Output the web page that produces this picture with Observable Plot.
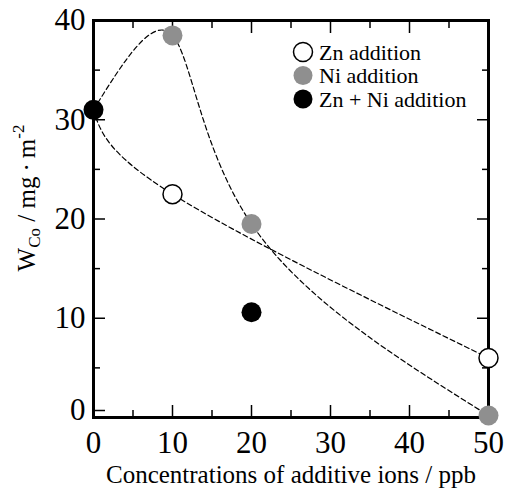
<!DOCTYPE html>
<html><head><meta charset="utf-8">
<script src="https://cdn.jsdelivr.net/npm/d3@7"></script>
<script src="https://cdn.jsdelivr.net/npm/@observablehq/plot@0.6"></script>
<style>body{margin:0;background:#fff} #chart{width:509px;height:488px}</style>
</head><body><div id="chart"></div>
<script>
const znX = [10, 50], znY = [22.5, 6];
const niX = [10, 20, 50], niY = [38.5, 19.5, 0.2];
const bothX = [0, 20], bothY = [31, 10.6];
const znCurveX = [0, 10, 50], znCurveY = [31, 22.5, 6];
const niCurveX = [0, 10, 20, 50], niCurveY = [31, 38.5, 19.5, 0.2];
const xTicks = [0, 10, 20, 30, 40, 50], xMinor = [5, 15, 25, 35, 45];
const yTicks = [10, 20, 30, 40], yZero = [0], yMinor = [5, 15, 25, 35];
const legendLabels = ["Zn addition", "Ni addition", "Zn + Ni addition"];
const legendFill = ["white", "#8f8f8f", "black"];
const xLabel = "Concentrations of additive ions / ppb";

const font = "Liberation Serif";
const empty = () => "";
const ax = (o) => Plot.axisX({fontSize: 31, stroke: "black", strokeWidth: 1.5, ...o});
const ay = (o) => Plot.axisY({fontSize: 31, stroke: "black", strokeWidth: 1.5, ...o});

const plot = Plot.plot({
  width: 509, height: 488,
  marginLeft: 93, marginRight: 21, marginTop: 20, marginBottom: 71,
  style: {fontFamily: font, color: "black", background: "white"},
  x: {domain: [0, 50]},
  y: {domain: [0, 40]},
  marks: [
    Plot.line(znCurveX.map((x, i) => ({x, y: znCurveY[i]})), {x: "x", y: "y", curve: "natural", stroke: "black", strokeWidth: 1.2, strokeDasharray: "5,3"}),
    Plot.line(niCurveX.map((x, i) => ({x, y: niCurveY[i]})), {x: "x", y: "y", curve: "natural", stroke: "black", strokeWidth: 1.2, strokeDasharray: "5,3"}),
    ax({anchor: "bottom", ticks: xTicks, tickSize: -12, tickPadding: 25, label: null}),
    ax({anchor: "bottom", ticks: xMinor, tickSize: -7, tickFormat: empty, label: null}),
    ax({anchor: "top", ticks: xTicks, tickSize: -12, tickFormat: empty, label: null}),
    ax({anchor: "top", ticks: xMinor, tickSize: -7, tickFormat: empty, label: null}),
    ay({anchor: "left", ticks: yTicks, tickSize: -12, tickPadding: 20, label: null}),
    ay({anchor: "left", ticks: yZero, tickSize: -12, tickPadding: 20, dy: -7, label: null}),
    ay({anchor: "left", ticks: yMinor, tickSize: -7, tickFormat: empty, label: null}),
    ay({anchor: "right", ticks: yTicks, tickSize: -12, tickFormat: empty, label: null}),
    ay({anchor: "right", ticks: yMinor, tickSize: -7, tickFormat: empty, label: null}),
    Plot.frame({stroke: "black", strokeWidth: 3}),
    Plot.dot(znX.map((x, i) => ({x, y: znY[i]})), {x: "x", y: "y", r: 9.5, fill: "white", stroke: "black", strokeWidth: 1.5}),
    Plot.dot(niX.map((x, i) => ({x, y: niY[i]})), {x: "x", y: "y", r: 10, fill: "#8f8f8f"}),
    Plot.dot(bothX.map((x, i) => ({x, y: bothY[i]})), {x: "x", y: "y", r: 10, fill: "black"}),
    Plot.text([xLabel], {frameAnchor: "bottom", lineAnchor: "middle", text: d => d, dy: 57, fontSize: 25, fill: "black"})
  ]
});
document.getElementById("chart").appendChild(plot);

const svg = d3.select(plot);
// legend
const lg = svg.append("g").attr("font-size", 22).attr("text-anchor", "start");
legendLabels.forEach((t, i) => {
  const cy = 52 + i * 23.5;
  lg.append("circle").attr("cx", 303).attr("cy", cy).attr("r", 9.5)
    .attr("fill", legendFill[i]).attr("stroke", i === 0 ? "black" : "none").attr("stroke-width", 1.5);
  lg.append("text").attr("x", 319).attr("y", cy + 7.5).attr("fill", "black").text(t);
});
// y label
const yl = svg.append("text").attr("font-size", 25).attr("fill", "black")
  .attr("text-anchor", "middle").attr("transform", "translate(35,198) rotate(-90)");
yl.append("tspan").text("W");
yl.append("tspan").attr("font-size", 17).attr("dy", 5).text("Co");
yl.append("tspan").attr("dy", -5).text(" / mg\u2009\u00B7\u2009m");
yl.append("tspan").attr("font-size", 17).attr("dy", -11).text("-2");

svg.attr("font-family", font);
svg.selectAll("text").attr("font-family", font).style("font-family", font);
</script></body></html>
